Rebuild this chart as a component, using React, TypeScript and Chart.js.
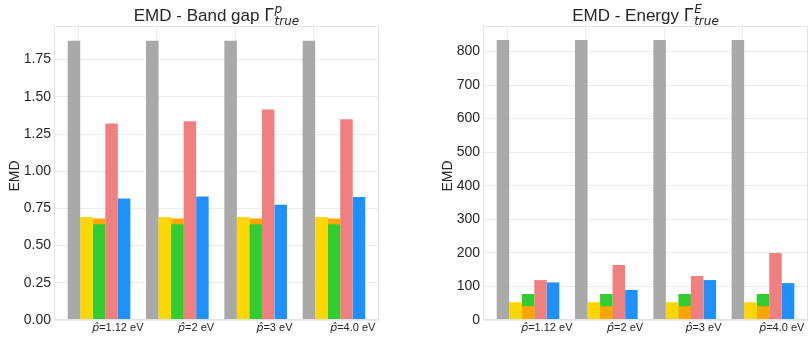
import React, { useEffect, useRef } from 'react';
import { Chart, registerables } from 'chart.js';

Chart.register(...registerables);

// ---------- data ----------
const groupIndex = [0, 1, 2, 3];
const xTickLabels = ['p̂=1.12 eV', 'p̂=2 eV', 'p̂=3 eV', 'p̂=4.0 eV'];

// Band gap panel
const gapGray = [1.877, 1.877, 1.877, 1.877];
const gapYellow = [0.693, 0.693, 0.693, 0.693];
const gapOrange = [0.683, 0.683, 0.683, 0.683];
const gapGreen = [0.644, 0.644, 0.644, 0.644];
const gapSalmon = [1.32, 1.336, 1.414, 1.349];
const gapBlue = [0.817, 0.83, 0.774, 0.826];
const gapYTicks = [0, 0.25, 0.5, 0.75, 1.0, 1.25, 1.5, 1.75];
const gapYMax = 1.976;

// Energy panel
const enGray = [834, 834, 834, 834];
const enYellow = [53, 53, 53, 53];
const enOrange = [41, 41, 41, 41];
const enGreen = [77.5, 77.5, 77.5, 77.5];
const enSalmon = [119, 164, 131, 200];
const enBlue = [112, 89.4, 119, 110];
const enYTicks = [0, 100, 200, 300, 400, 500, 600, 700, 800];
const enYMax = 876;

// ---------- styles ----------
const C = {
  gray: '#a9a9a9',
  yellow: '#ffd700',
  orange: '#ffa500',
  green: '#32cd32',
  salmon: '#f08080',
  blue: '#1e90ff',
};
const GRID = '#ebebeb';
const FRAME = '#e3e3e3';
const TEXT = '#262626';
const SANS = '"Liberation Sans", Arial, sans-serif';
const SLOTS = 5;
const CAT_PCT = 0.8;
const TICK_SHIFT = (1.5 * CAT_PCT) / SLOTS;
const X_MIN = -0.575;
const X_MAX = 3.575;
const H = 339;

const framePlugin = {
  id: 'frame',
  afterDatasetsDraw(chart: any) {
    const { ctx, chartArea: a } = chart;
    ctx.save();
    ctx.strokeStyle = FRAME;
    ctx.lineWidth = 1;
    ctx.strokeRect(Math.round(a.left) + 0.5, Math.round(a.top) + 0.5, Math.round(a.right - a.left) - 1, Math.round(a.bottom - a.top) - 1);
    ctx.restore();
  },
};

const textPlugin = {
  id: 'mtext',
  afterDraw(chart: any, _args: any, opts: any) {
    const { ctx, chartArea: a } = chart;
    ctx.save();
    ctx.fillStyle = TEXT;
    ctx.textBaseline = 'alphabetic';
    ctx.textAlign = 'left';
    // title
    const mainFont = `17px ${SANS}`;
    const gFont = '17px "DejaVu Sans"';
    const scriptFont = 'italic 12px "DejaVu Sans"';
    ctx.font = mainFont;
    const wMain = ctx.measureText(opts.title).width;
    ctx.font = gFont;
    const wG = ctx.measureText('Γ').width;
    ctx.font = scriptFont;
    const wSup = ctx.measureText(opts.sup).width;
    const wSub = ctx.measureText(opts.sub).width;
    const total = wMain + wG + Math.max(wSup, wSub) + 1;
    const cx = (a.left + a.right) / 2;
    let x = cx - total / 2;
    const base = 21;
    ctx.font = mainFont;
    ctx.fillText(opts.title, x, base);
    x += wMain;
    ctx.font = gFont;
    ctx.fillText('Γ', x, base);
    x += wG + 1;
    ctx.font = scriptFont;
    ctx.fillText(opts.sup, x, base - 8);
    ctx.fillText(opts.sub, x, base + 4);

    // x tick labels
    const xs = chart.scales.x;
    xs.ticks.forEach((t: any, i: number) => {
      const label = xTickLabels[i];
      const k = label.indexOf('=');
      const head = label.slice(0, k);
      const rest = label.slice(k);
      const hf = 'italic 11px "DejaVu Sans"';
      const rf = `11px ${SANS}`;
      ctx.font = hf;
      const wh = ctx.measureText(head).width;
      ctx.font = rf;
      const wr = ctx.measureText(rest).width;
      const px = xs.getPixelForValue(t.value);
      const sx = px - (wh + wr) / 2;
      ctx.font = hf;
      ctx.fillText(head, sx, 331);
      ctx.font = rf;
      ctx.fillText(rest, sx + wh, 331);
    });

    // y axis title
    const ys = chart.scales.y;
    ctx.font = `14px ${SANS}`;
    let maxW = 0;
    ys.ticks.forEach((t: any) => {
      maxW = Math.max(maxW, ctx.measureText(String(t.label)).width);
    });
    const yx = a.left - 3 - maxW - 9;
    ctx.translate(yx, (a.top + a.bottom) / 2 + 3);
    ctx.rotate(-Math.PI / 2);
    ctx.textAlign = 'center';
    ctx.textBaseline = 'middle';
    ctx.fillText('EMD', 0, 0);
    ctx.restore();
  },
};

type Series = { name: string; color: string; stack: string; values: number[] };

function buildConfig(p: {
  series: Series[];
  yTicks: number[];
  yMax: number;
  decimals: number;
  title: string;
  sup: string;
  sub: string;
  padRight: number;
  yWidth: number;
}): any {
  return {
    type: 'bar',
    data: {
      datasets: p.series.map((s) => ({
        label: s.name,
        data: groupIndex.map((g, i) => ({ x: g, y: s.values[i] })),
        backgroundColor: s.color,
        borderWidth: 0,
        stack: s.stack,
        categoryPercentage: CAT_PCT,
        barPercentage: 1,
      })),
    },
    options: {
      animation: false,
      responsive: false,
      devicePixelRatio: 1,
      layout: { padding: { top: 26, left: 0, right: p.padRight, bottom: 0 } },
      plugins: {
        legend: { display: false },
        tooltip: { enabled: false },
        mtext: { title: p.title, sup: p.sup, sub: p.sub },
      },
      scales: {
        x: {
          type: 'linear',
          stacked: true,
          min: X_MIN,
          max: X_MAX,
          offset: false,
          afterBuildTicks: (s: any) => {
            s.ticks = groupIndex.map((g) => ({ value: g + TICK_SHIFT }));
          },
          afterFit: (s: any) => {
            s.height = 19;
          },
          ticks: { display: false },
          grid: { color: GRID, drawTicks: false, lineWidth: 1 },
          border: { display: false },
        },
        y: {
          type: 'linear',
          stacked: false,
          min: 0,
          max: p.yMax,
          afterBuildTicks: (s: any) => {
            s.ticks = p.yTicks.map((v) => ({ value: v }));
          },
          afterFit: (s: any) => {
            s.width = p.yWidth;
          },
          ticks: {
            font: { family: SANS, size: 14 },
            color: TEXT,
            padding: 3,
            callback: (v: any) => Number(v).toFixed(p.decimals),
          },
          grid: { color: GRID, drawTicks: false, lineWidth: 1 },
          border: { display: false },
        },
      },
    },
    plugins: [framePlugin, textPlugin],
  };
}

const gapConfig = () =>
  buildConfig({
    series: [
      { name: 'gray', color: C.gray, stack: 's0', values: gapGray },
      { name: 'yellow', color: C.yellow, stack: 's1', values: gapYellow },
      { name: 'green', color: C.green, stack: 's2', values: gapGreen },
      { name: 'orange', color: C.orange, stack: 's2', values: gapOrange },
      { name: 'salmon', color: C.salmon, stack: 's3', values: gapSalmon },
      { name: 'blue', color: C.blue, stack: 's4', values: gapBlue },
    ],
    yTicks: gapYTicks,
    yMax: gapYMax,
    decimals: 2,
    title: 'EMD - Band gap ',
    sup: 'p',
    sub: 'true',
    padRight: 25,
    yWidth: 54,
  });

const enConfig = () =>
  buildConfig({
    series: [
      { name: 'gray', color: C.gray, stack: 's0', values: enGray },
      { name: 'yellow', color: C.yellow, stack: 's1', values: enYellow },
      { name: 'orange', color: C.orange, stack: 's2', values: enOrange },
      { name: 'green', color: C.green, stack: 's2', values: enGreen },
      { name: 'salmon', color: C.salmon, stack: 's3', values: enSalmon },
      { name: 'blue', color: C.blue, stack: 's4', values: enBlue },
    ],
    yTicks: enYTicks,
    yMax: enYMax,
    decimals: 0,
    title: 'EMD - Energy ',
    sup: 'E',
    sub: 'true',
    padRight: 1,
    yWidth: 79,
  });

function Panel({ make, left, width }: { make: () => any; left: number; width: number }) {
  const ref = useRef<HTMLCanvasElement>(null);
  useEffect(() => {
    const chart = new Chart(ref.current as HTMLCanvasElement, make());
    return () => chart.destroy();
  }, []);
  return (
    <canvas
      ref={ref}
      width={width}
      height={H}
      style={{ position: 'absolute', left, top: 0, width, height: H, display: 'block' }}
    />
  );
}

export default function App() {
  return (
    <div style={{ position: 'absolute', left: 0, top: 0, width: 809, height: H, background: '#fff' }}>
      <Panel make={gapConfig} left={0} width={404} />
      <Panel make={enConfig} left={404} width={405} />
    </div>
  );
}
